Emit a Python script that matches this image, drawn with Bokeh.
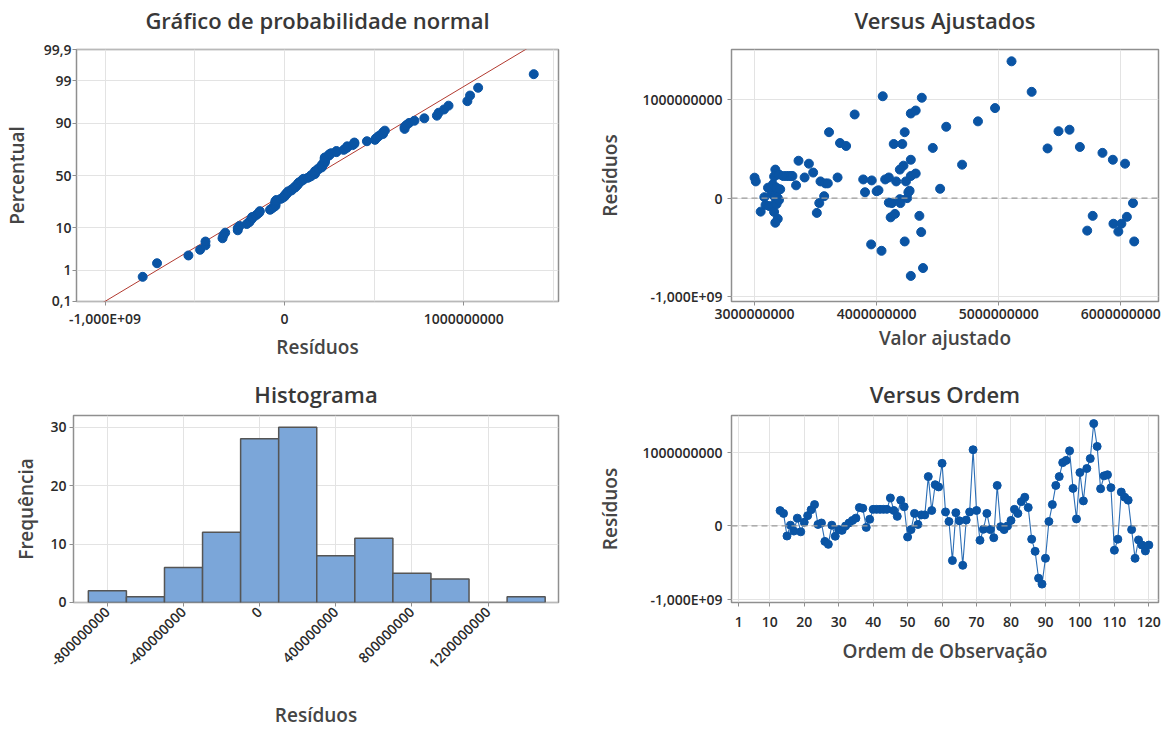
import math
import numpy as np
from statistics import NormalDist
from bokeh.plotting import figure
from bokeh.layouts import column, row
from bokeh.models import FixedTicker, Span, Range1d, CustomJSTickFormatter, Title
from bokeh.embed import file_html
from bokeh.resources import INLINE

# ---------------- data ----------------
observation = list(range(13, 121))

# residuals, in millions, by observation order 13..120
residuals_mi = [
    208, 170, -137, 10, -70, 106, -80, 50, 140, 220,
    290, 20, 40, -210, -250, 10, -140, -50, -60, 0,
    40, 75, 106, 250, 240, -20, 90, 225, 225, 225,
    225, 225, 380, 210, 130, 350, 260, -150, -50, 170,
    20, 150, 150, 670, 210, 560, 530, 850, 190, 60,
    -470, 180, 70, -535, 80, 190, 1035, 210, -195, -45,
    170, -50, -160, 550, -10, -50, 0, 75, 225, 170,
    330, 390, 250, -180, -345, -710, -790, -440, 60, 290,
    550, 670, 860, 890, 1020, 510, 95, 725, 340, 780,
    915, 1390, 1080, 505, 680, 695, 520, -330, -180, 460,
    390, 350, -50, -440, -190, -260, -340, -260,
]

# fitted values, in billions, by observation order 13..120
fitted_bi = [
    3.00, 3.01, 3.05, 3.08, 3.09, 3.11, 3.12, 3.14, 3.15, 3.16,
    3.17, 3.16, 3.15, 3.19, 3.17, 3.18, 3.16, 3.17, 3.18, 3.19,
    3.17, 3.19, 3.18, 3.18, 3.20, 3.20, 3.21, 3.235, 3.26, 3.28,
    3.30, 3.31, 3.36, 3.41, 3.34, 3.445, 3.48, 3.51, 3.53, 3.54,
    3.57, 3.58, 3.60, 3.61, 3.68, 3.70, 3.75, 3.82, 3.89, 3.905,
    3.955, 3.96, 4.00, 4.04, 4.015, 4.07, 4.05, 4.10, 4.115, 4.10,
    4.16, 4.125, 4.15, 4.14, 4.19, 4.195, 4.25, 4.27, 4.28, 4.24,
    4.22, 4.28, 4.32, 4.35, 4.365, 4.38, 4.28, 4.23, 4.26, 4.19,
    4.21, 4.23, 4.28, 4.32, 4.37, 4.46, 4.52, 4.57, 4.70, 4.83,
    4.97, 5.105, 5.27, 5.40, 5.49, 5.58, 5.665, 5.725, 5.77, 5.85,
    5.935, 6.035, 6.10, 6.11, 6.05, 5.94, 5.98, 6.005,
]

hist_bin_edges_mi = [-900, -700, -500, -300, -100, 100, 300, 500, 700, 900, 1100, 1300, 1500]

percent_ticks = [0.1, 1, 10, 50, 90, 99, 99.9]
percent_labels = ["0,1", "1", "10", "50", "90", "99", "99,9"]
resid_ticks = [-1e9, 0.0, 1e9]
resid_labels = ["-1,000E+09", "0", "1000000000"]
resid_minor = [-5e8, 5e8, 1.5e9]
fitted_ticks = [3e9, 4e9, 5e9, 6e9]
fitted_labels = ["3000000000", "4000000000", "5000000000", "6000000000"]
hist_ticks = [-8e8, -4e8, 0.0, 4e8, 8e8, 1.2e9]
hist_labels = ["-800000000", "-400000000", "0", "400000000", "800000000", "1200000000"]
freq_ticks = [0, 10, 20, 30]
freq_labels = ["0", "10", "20", "30"]
order_ticks = [1, 10, 20, 30, 40, 50, 60, 70, 80, 90, 100, 110, 120]
order_labels = [str(t) for t in order_ticks]

titles = ["Gráfico de probabilidade normal", "Versus Ajustados", "Histograma", "Versus Ordem"]

# ---------------- derived ----------------
residuals = np.array(residuals_mi, dtype=float) * 1e6
fitted = np.array(fitted_bi, dtype=float) * 1e9
nd = NormalDist()
n = len(residuals)
res_sorted = np.sort(residuals)
z_pts = np.array([nd.inv_cdf((i - 0.3) / (n + 0.4)) for i in range(1, n + 1)])
mu = residuals.mean()
sd = residuals.std(ddof=1)
z_line = np.array([-3.5, 3.5])
x_line = mu + z_line * sd
z_ticks = [nd.inv_cdf(p / 100.0) for p in percent_ticks]
edges = np.array(hist_bin_edges_mi, dtype=float) * 1e6
counts, _ = np.histogram(residuals, bins=edges)

# ---------------- styling ----------------
SEMI = "Open Sans SemiBold, Open Sans"
BLUE = "#0a54a4"
GRID = "#e3e3e3"
FRAME = "#8f8f8f"
TXT = "#2b2b2b"


def fmt(ticks, labels):
    return CustomJSTickFormatter(args=dict(tv=list(ticks), tl=list(labels)), code="""
        for (let i = 0; i < tv.length; i++) {
            if (Math.abs(tv[i] - tick) <= 1e-6 * Math.max(1, Math.abs(tv[i]))) { return tl[i]; }
        }
        return "";
    """)


def make(title, w, h, bl, br, bt, bb, xr, yr, spacer):
    p = figure(width=w, height=h, x_range=xr, y_range=yr, tools="", toolbar_location=None,
               output_backend="svg", min_border_left=bl, min_border_right=br,
               min_border_top=bt, min_border_bottom=bb, title=None)
    # thin spacer between frame and title, then the title itself
    p.add_layout(Title(text=" ", text_font_size="1px", standoff=spacer), "above")
    p.add_layout(Title(text=title, align="center", text_font=SEMI, text_font_style="bold",
                       text_font_size="22px", text_color="#383838", standoff=0), "above")
    p.outline_line_color = FRAME
    p.outline_line_width = 1.5
    p.background_fill_color = "white"
    p.border_fill_color = "white"
    for ax in (p.xaxis[0], p.yaxis[0]):
        ax.axis_line_color = None
        ax.major_tick_line_color = FRAME
        ax.major_tick_out = 4
        ax.major_tick_in = 0
        ax.minor_tick_out = 0
        ax.minor_tick_in = 0
        ax.major_label_text_font = SEMI
        ax.major_label_text_font_size = "14px"
        ax.major_label_text_color = TXT
        ax.axis_label_text_font = SEMI
        ax.axis_label_text_font_size = "19px"
        ax.axis_label_text_font_style = "normal"
        ax.axis_label_text_color = "#454545"
    p.grid.grid_line_color = GRID
    p.grid.grid_line_width = 1
    return p


def set_axis(ax, ticks, labels, minor=None):
    ax.ticker = FixedTicker(ticks=list(ticks), minor_ticks=list(minor or []))
    ax.formatter = fmt(ticks, labels)


# ---- 1: normal probability plot ----
p1 = make(titles[0], 590, 365, 73, 32, 49, 64,
          Range1d(-1.159e9, 1.528e9), Range1d(z_ticks[0] - 0.001, z_ticks[-1] + 0.001), 12)
set_axis(p1.xaxis[0], resid_ticks, resid_labels, resid_minor)
set_axis(p1.yaxis[0], z_ticks, percent_labels)
p1.xgrid.minor_grid_line_color = GRID
p1.xaxis.axis_label = "Resíduos"
p1.yaxis.axis_label = "Percentual"
p1.xaxis.major_label_standoff = 3
p1.yaxis.major_label_standoff = 1
p1.xaxis.axis_label_standoff = 3
p1.yaxis.axis_label_standoff = 11
p1.line(x_line, z_line, line_color="#b23a30", line_width=1)
p1.scatter(res_sorted, z_pts, size=9, fill_color=BLUE, line_color=BLUE)

# ---- 2: versus fits ----
p2 = make(titles[1], 584, 365, 141, 16, 49, 64,
          Range1d(2.811e9, 6.309e9), Range1d(-1.05e9, 1.51e9), 12)
set_axis(p2.xaxis[0], fitted_ticks, fitted_labels)
set_axis(p2.yaxis[0], resid_ticks, resid_labels)
p2.xaxis.axis_label = "Valor ajustado"
p2.yaxis.axis_label = "Resíduos"
p2.xaxis.major_label_standoff = 3
p2.yaxis.major_label_standoff = 5
p2.xaxis.axis_label_standoff = 3
p2.yaxis.axis_label_standoff = 17
p2.add_layout(Span(location=0, dimension="width", line_color="#9c9c9c", line_width=1.3, line_dash="6 4"))
p2.scatter(fitted, residuals, size=9, fill_color=BLUE, line_color=BLUE)

# ---- 3: histogram ----
p3 = make(titles[2], 590, 366, 73, 32, 50, 124,
          Range1d(-978e6, 1570e6), Range1d(-0.0001, 32), 4)
set_axis(p3.xaxis[0], hist_ticks, hist_labels)
set_axis(p3.yaxis[0], freq_ticks, freq_labels)
p3.xaxis.major_label_orientation = math.pi / 4
p3.xaxis.axis_label = "Resíduos"
p3.yaxis.axis_label = "Frequência"
p3.xaxis.major_label_standoff = 3
p3.yaxis.major_label_standoff = 3
p3.xaxis.axis_label_standoff = 26
p3.yaxis.axis_label_standoff = 9
p3.quad(left=edges[:-1], right=edges[1:], bottom=0, top=counts,
        fill_color="#7ba6d9", line_color="#555555", line_width=1.5)

# ---- 4: versus order ----
p4 = make(titles[3], 584, 366, 141, 16, 50, 124,
          Range1d(-1.1, 122.8), Range1d(-1.04e9, 1.50e9), 4)
set_axis(p4.xaxis[0], order_ticks, order_labels)
set_axis(p4.yaxis[0], resid_ticks, resid_labels)
p4.xaxis.axis_label = "Ordem de Observação"
p4.yaxis.axis_label = "Resíduos"
p4.xaxis.major_label_standoff = 10
p4.yaxis.major_label_standoff = 5
p4.xaxis.axis_label_standoff = 8
p4.yaxis.axis_label_standoff = 17
p4.add_layout(Span(location=0, dimension="width", line_color="#9c9c9c", line_width=1.3, line_dash="6 4"))
p4.line(observation, residuals, line_color="#2a6db5", line_width=1.1)
p4.scatter(observation, residuals, size=8, fill_color=BLUE, line_color=BLUE)

layout = column(row(p1, p2), row(p3, p4))
open("out.html", "w").write(file_html(layout, INLINE))
